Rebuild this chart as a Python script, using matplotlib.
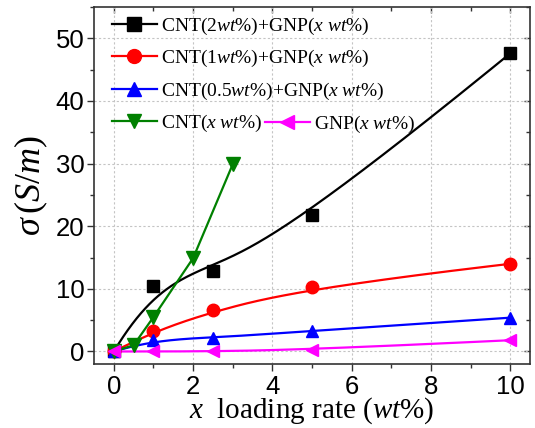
import numpy as np
import matplotlib
matplotlib.use("Agg")
import matplotlib.pyplot as plt
from matplotlib.ticker import MultipleLocator

plt.rcParams['mathtext.fontset'] = 'custom'
plt.rcParams['mathtext.rm'] = 'Liberation Serif'
plt.rcParams['mathtext.it'] = 'Liberation Serif:italic'
plt.rcParams['mathtext.bf'] = 'Liberation Serif:bold'

# ---- data ----
x_cnt2 = [0, 1, 2.5, 5, 10]
y_cnt2 = [0, 10.5, 12.9, 21.8, 47.6]
x_cnt1 = [0, 1, 2.5, 5, 10]
y_cnt1 = [0, 3.2, 6.6, 10.3, 14.0]
x_cnt05 = [0, 1, 2.5, 5, 10]
y_cnt05 = [0, 1.9, 2.1, 3.3, 5.4]
x_cnt = [0, 0.5, 1, 2, 3]
y_cnt = [0, 1.0, 5.5, 14.9, 29.9]
x_gnp = [0, 1, 2.5, 5, 10]
y_gnp = [0, 0.0, 0.0, 0.3, 1.8]

labels = [r'CNT(2$\mathit{wt\%}$)+GNP($\mathit{x\ wt\%}$)',
          r'CNT(1$\mathit{wt\%}$)+GNP($\mathit{x\ wt\%}$)',
          r'CNT(0.5$\mathit{wt\%}$)+GNP($\mathit{x\ wt\%}$)',
          r'CNT($\mathit{x\ wt\%}$)',
          r'GNP($\mathit{x\ wt\%}$)']


def bspline(xs, ys, n=300, k=3):
    P = np.column_stack([xs, ys]).astype(float)
    m = len(P)
    k = min(k, m - 1)
    inner = np.linspace(0, 1, m - k + 1)
    t = np.concatenate([np.zeros(k), inner, np.ones(k)])
    u = np.linspace(0, 1, n)
    u[-1] = 1 - 1e-10

    def N(i, p, u):
        if p == 0:
            return ((t[i] <= u) & (u < t[i + 1])).astype(float)
        a = 0.0
        b = 0.0
        d1 = t[i + p] - t[i]
        d2 = t[i + p + 1] - t[i + 1]
        if d1 > 0:
            a = (u - t[i]) / d1 * N(i, p - 1, u)
        if d2 > 0:
            b = (t[i + p + 1] - u) / d2 * N(i + 1, p - 1, u)
        return a + b

    C = np.zeros((n, 2))
    for i in range(m):
        C += N(i, k, u)[:, None] * P[i]
    return C[:, 0], C[:, 1]


fig = plt.figure(figsize=(5.35, 4.28), dpi=100)
ax = fig.add_axes([0.1757, 0.1495, 0.815, 0.834])

ms = 9
lw = 1.6
series = [
    (x_cnt2, y_cnt2, 'black', 's', True),
    (x_cnt1, y_cnt1, 'red', 'o', True),
    (x_cnt05, y_cnt05, 'blue', '^', True),
    (x_cnt, y_cnt, 'green', 'v', False),
    (x_gnp, y_gnp, 'magenta', '<', True),
]
handles = []
for (xs, ys, c, m, smooth), lab in zip(series, labels):
    if smooth:
        sx, sy = bspline(xs, ys)
        ax.plot(sx, sy, color=c, lw=lw, zorder=3)
        ax.plot(xs, ys, ls='none', marker=m, color=c, ms=ms, zorder=4)
    else:
        ax.plot(xs, ys, color=c, lw=lw, marker=m, ms=ms + 1, zorder=4)
    h, = ax.plot([], [], color=c, lw=lw, marker=m, ms=ms + 1, label=lab)
    handles.append(h)

ax.set_xlim(-0.5, 10.5)
ax.set_ylim(-2, 55)
ax.xaxis.set_major_locator(MultipleLocator(2))
ax.xaxis.set_minor_locator(MultipleLocator(1))
ax.yaxis.set_major_locator(MultipleLocator(10))
ax.yaxis.set_minor_locator(MultipleLocator(5))
ax.grid(True, which='major', color='#c4c4c4', ls=(0, (2, 2)), lw=0.8)
ax.set_axisbelow(True)

for s in ax.spines.values():
    s.set_color('#333333')
    s.set_linewidth(1.2)

tickfont = 'Liberation Sans'
ax.tick_params(which='both', direction='out', top=False, right=False, color='#333333', width=1.0)
ax.tick_params(which='major', length=5, labelsize=18.5)
ax.tick_params(which='minor', length=3)
ax.tick_params(axis='x', which='major', pad=3)
ax.tick_params(axis='y', which='major', pad=2)
for lab in ax.get_xticklabels() + ax.get_yticklabels():
    lab.set_fontfamily(tickfont)

# inward ticks on top and right
sec_x = ax.secondary_xaxis('top')
sec_x.xaxis.set_major_locator(MultipleLocator(2))
sec_x.xaxis.set_minor_locator(MultipleLocator(1))
sec_x.tick_params(which='both', direction='in', labeltop=False, color='#333333', width=1.0)
sec_x.tick_params(which='major', length=4)
sec_x.tick_params(which='minor', length=3)
sec_y = ax.secondary_yaxis('right')
sec_y.yaxis.set_major_locator(MultipleLocator(10))
sec_y.yaxis.set_minor_locator(MultipleLocator(5))
sec_y.tick_params(which='both', direction='in', labelright=False, color='#333333', width=1.0)
sec_y.tick_params(which='major', length=4)
sec_y.tick_params(which='minor', length=3)
sec_x.spines['top'].set_visible(False)
sec_y.spines['right'].set_visible(False)

ax.set_xlabel(r'$\mathit{x}$  loading rate ($\mathit{wt}$%)', fontfamily='Liberation Serif', fontsize=21, labelpad=-3)
ax.set_ylabel(r'$\sigma\,(\mathit{S/m})$', fontfamily='Liberation Serif', fontsize=26, labelpad=4)

leg_kw = dict(frameon=False, prop={'family': 'Liberation Serif', 'size': 14},
              handlelength=2.3, handletextpad=0.2, numpoints=1, borderaxespad=0,
              borderpad=0, labelspacing=0.57, bbox_transform=fig.transFigure)
leg1 = ax.legend(handles=handles[:4], loc='upper left',
                 bbox_to_anchor=(112 / 535, 1 - 16 / 428), **leg_kw)
ax.add_artist(leg1)
leg2 = ax.legend(handles=handles[4:], loc='center left',
                 bbox_to_anchor=(265 / 535, 1 - 124 / 428), **leg_kw)

fig.savefig('out.png', dpi=100)
